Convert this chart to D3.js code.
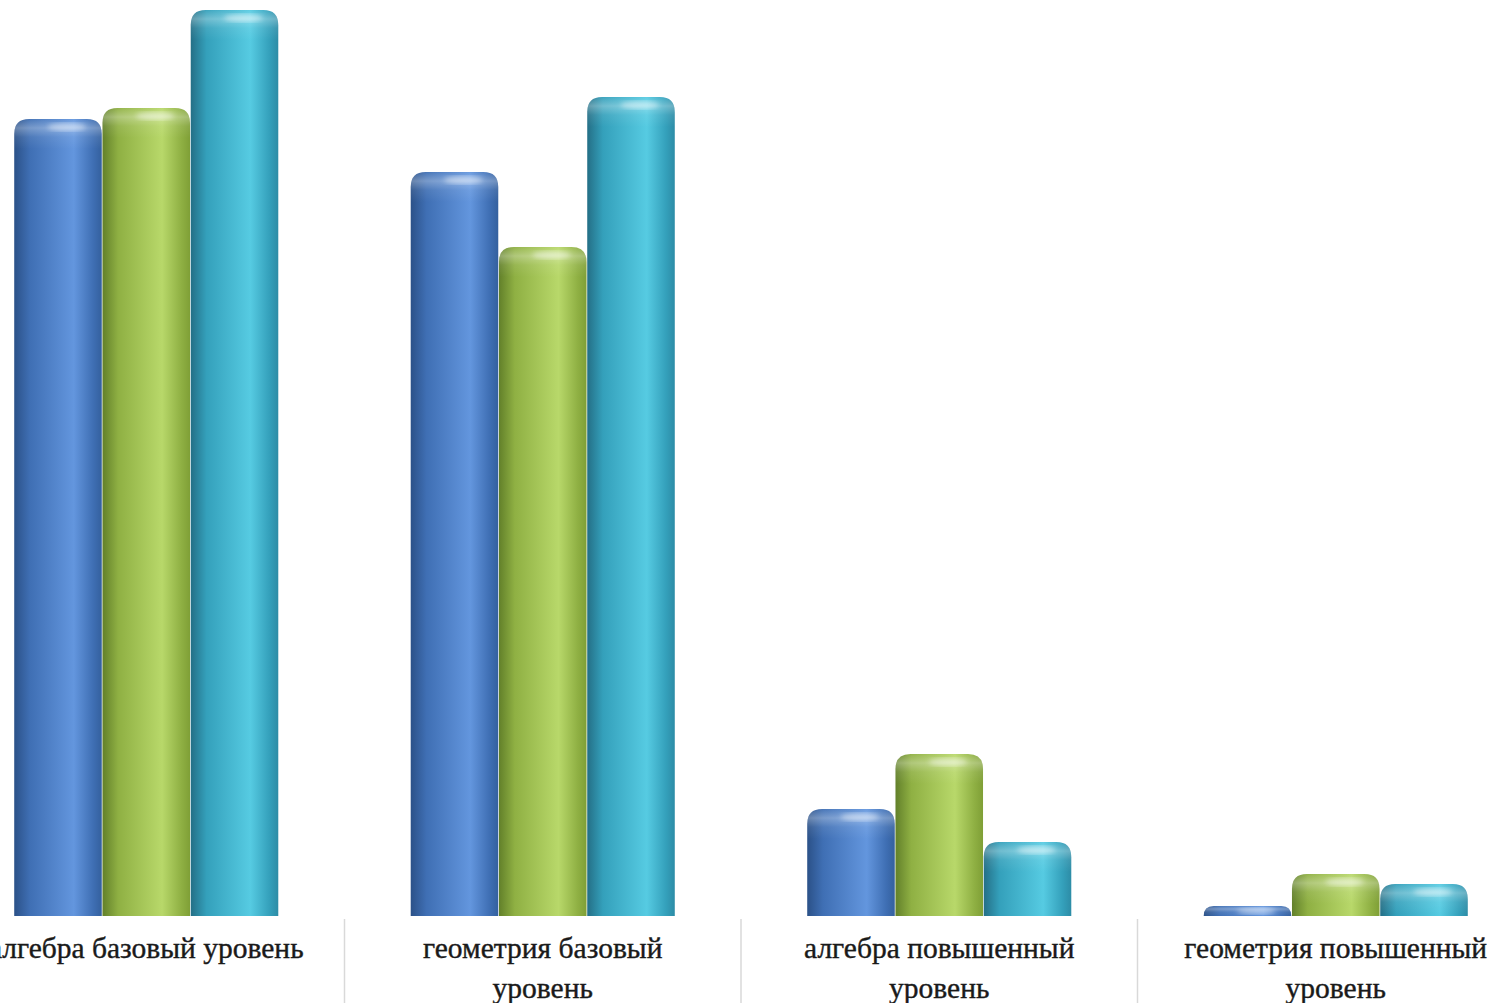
<!DOCTYPE html>
<html>
<head>
<meta charset="utf-8">
<script src="https://cdn.jsdelivr.net/npm/d3@7"></script>
<style>
  html, body { margin: 0; padding: 0; background: #fff; overflow: hidden; }
  svg { display: block; }
</style>
</head>
<body>
<svg></svg>
<script>
// categories and series (percent)
const categories = ['алгебра базовый уровень', 'геометрия базовый уровень', 'алгебра повышенный уровень', 'геометрия повышенный уровень'];
const seriesNames = ['s1', 's2', 's3'];
const s1 = [79.7, 74.4, 10.7, 1.0];
const s2 = [80.8, 66.9, 16.2, 4.2];
const s3 = [90.6, 81.9, 7.4, 3.2];
const seriesValues = [s1, s2, s3];

const palettes = [
	{ dark: '#2b5188', mid: '#3f6fb4', light: '#6396de', edge: '#34609e' },
	{ dark: '#62802a', mid: '#8fb043', light: '#b8d86a', edge: '#7f9f36' },
	{ dark: '#246f86', mid: '#34a0bb', light: '#56cbe2', edge: '#2d8ca6' }
];

const W = 1506, H = 1003;
const baseline = 916;

const svg = d3.select('svg').attr('width', W).attr('height', H);
const defs = svg.append('defs');

palettes.forEach((p, i) => {
	const g = defs.append('linearGradient').attr('id', 'grad' + i)
		.attr('x1', 0).attr('x2', 1).attr('y1', 0).attr('y2', 0);
	g.append('stop').attr('offset', '0%').attr('stop-color', p.dark);
	g.append('stop').attr('offset', '18%').attr('stop-color', p.mid);
	g.append('stop').attr('offset', '68%').attr('stop-color', p.light);
	g.append('stop').attr('offset', '90%').attr('stop-color', p.mid);
	g.append('stop').attr('offset', '100%').attr('stop-color', p.edge);
});

const cap = defs.append('linearGradient').attr('id', 'cap')
	.attr('x1', 0).attr('x2', 0).attr('y1', 0).attr('y2', 1);
cap.append('stop').attr('offset', '0%').attr('stop-color', '#fff').attr('stop-opacity', 0.05);
cap.append('stop').attr('offset', '30%').attr('stop-color', '#fff').attr('stop-opacity', 0.3);
cap.append('stop').attr('offset', '60%').attr('stop-color', '#fff').attr('stop-opacity', 0.08);
cap.append('stop').attr('offset', '100%').attr('stop-color', '#fff').attr('stop-opacity', 0);

defs.append('filter').attr('id', 'blur')
	.append('feGaussianBlur').attr('stdDeviation', 2.5);

const x = d3.scaleBand()
	.domain(categories)
	.range([-52, 1534])
	.paddingInner(0.334)
	.paddingOuter(0.167);

const xSub = d3.scaleBand()
	.domain(seriesNames)
	.range([0, x.bandwidth()])
	.paddingInner(0.008);

const y = d3.scaleLinear()
	.domain([0, 100])
	.range([baseline, baseline - 1000]);

// rounded-top bar path
function barPath(x0, y0, w, h) {
	const r = Math.min(15, h, w / 2);
	return 'M' + x0 + ',' + (y0 + h) +
		'V' + (y0 + r) +
		'Q' + x0 + ',' + y0 + ' ' + (x0 + r) + ',' + y0 +
		'H' + (x0 + w - r) +
		'Q' + (x0 + w) + ',' + y0 + ' ' + (x0 + w) + ',' + (y0 + r) +
		'V' + (y0 + h) + 'Z';
}

// category separators
const step = x.step();
svg.append('g').selectAll('line')
	.data(categories.slice(1))
	.enter().append('line')
	.attr('x1', d => x(d) - step * 0.167)
	.attr('x2', d => x(d) - step * 0.167)
	.attr('y1', baseline + 3)
	.attr('y2', H)
	.attr('stroke', '#d9d9d9')
	.attr('stroke-width', 1.5);

const data = [];
categories.forEach((c, ci) => {
	seriesNames.forEach((s, si) => {
		data.push({ cat: c, series: s, si: si, value: seriesValues[si][ci] });
	});
});

const bars = svg.append('g').selectAll('g.bar')
	.data(data)
	.enter().append('g')
	.attr('class', 'bar');

bars.append('path')
	.attr('d', d => barPath(x(d.cat) + xSub(d.series), y(d.value), xSub.bandwidth(), baseline - y(d.value)))
	.attr('fill', d => 'url(#grad' + d.si + ')');

bars.append('path')
	.attr('d', d => barPath(x(d.cat) + xSub(d.series), y(d.value), xSub.bandwidth(), Math.min(30, baseline - y(d.value))))
	.attr('fill', 'url(#cap)');

bars.append('ellipse')
	.attr('cx', d => x(d.cat) + xSub(d.series) + xSub.bandwidth() * 0.6)
	.attr('cy', d => y(d.value) + Math.min(8, (baseline - y(d.value)) / 2))
	.attr('rx', xSub.bandwidth() * 0.22)
	.attr('ry', d => Math.min(4, (baseline - y(d.value)) / 3))
	.attr('fill', '#fff')
	.attr('opacity', 0.45)
	.attr('filter', 'url(#blur)');

// category labels, wrapped
const labels = svg.append('g')
	.attr('font-family', '"Liberation Serif", "DejaVu Serif", serif')
	.attr('font-size', 29.5)
	.attr('fill', '#1a1a1a')
	.attr('stroke', '#1a1a1a')
	.attr('stroke-width', 0.4);

categories.forEach(c => {
	const t = labels.append('text')
		.attr('x', x(c) + x.bandwidth() / 2)
		.attr('y', 958)
		.attr('text-anchor', 'middle');
	const words = c.split(' ');
	let line = [];
	let tspan = t.append('tspan').attr('x', x(c) + x.bandwidth() / 2).attr('dy', 0);
	words.forEach(w => {
		line.push(w);
		tspan.text(line.join(' '));
		if (tspan.node().getComputedTextLength() > 340 && line.length > 1) {
			line.pop();
			tspan.text(line.join(' '));
			line = [w];
			tspan = t.append('tspan').attr('x', x(c) + x.bandwidth() / 2).attr('dy', 40).text(w);
		}
	});
});
</script>
</body>
</html>
